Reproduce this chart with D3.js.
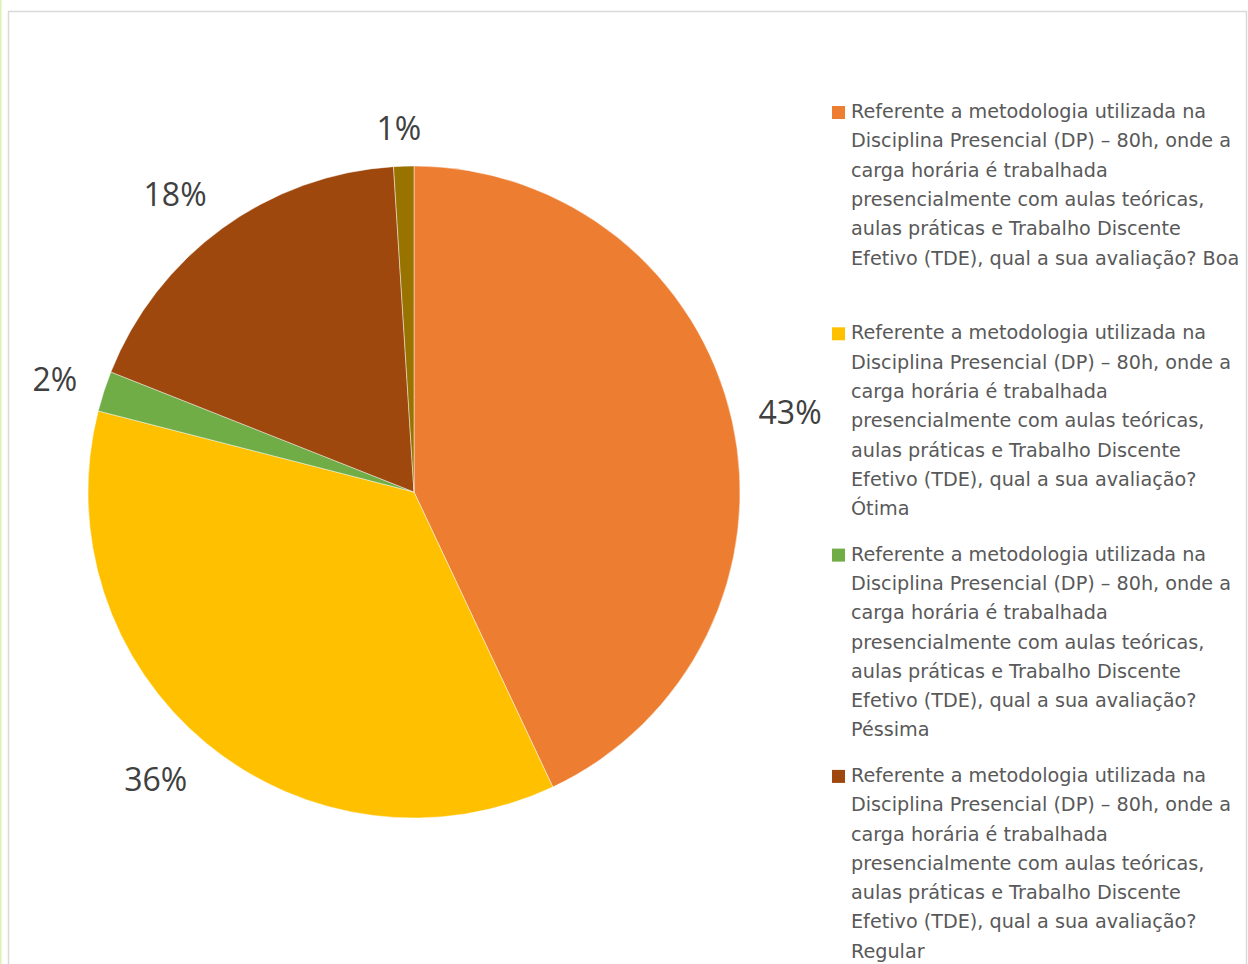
<!DOCTYPE html>
<html>
<head>
<meta charset="utf-8">
<script src="https://cdn.jsdelivr.net/npm/d3@7"></script>
<style>
html,body{margin:0;padding:0;background:#fff;overflow:hidden;}
svg{display:block;}
</style>
</head>
<body>
<svg id="chart" width="1248" height="964"></svg>
<script>
const questionText = "Referente a metodologia utilizada na Disciplina Presencial (DP) \u2013 80h, onde a carga horária é trabalhada presencialmente com aulas teóricas, aulas práticas e Trabalho Discente Efetivo (TDE), qual a sua avaliação?";
const ratings = ["Boa", "Ótima", "Péssima", "Regular", "Ruim"];
const percents = [43, 36, 2, 18, 1];
const colors = ["#ED7D31", "#FFC000", "#70AD47", "#9E480E", "#997300"];

const svg = d3.select("#chart");
const W = 1248, H = 964;

// frame lines
svg.append("rect").attr("x",0).attr("y",0).attr("width",1.5).attr("height",H).attr("fill","#dcf2b4");
svg.append("rect").attr("x",8.5).attr("y",11.5).attr("width",W-10).attr("height",H+20)
  .attr("fill","none").attr("stroke","#d9d9d9").attr("stroke-width",1.5);

const cx = 414, cy = 492, R = 326;
const data = ratings.map((r,i)=>({label: questionText + " " + r, value: percents[i], color: colors[i]}));

const pie = d3.pie().value(d=>d.value).sort(null);
const arcs = pie(data);
const arc = d3.arc().innerRadius(0).outerRadius(R);

const g = svg.append("g").attr("transform",`translate(${cx},${cy})`);
g.selectAll("path").data(arcs).join("path")
  .attr("d", arc)
  .attr("fill", d=>d.data.color)
  .attr("stroke", "#fff").attr("stroke-width", 0.75).attr("stroke-opacity",0.6);

// data labels (outside end, Excel-like)
const labelFont = 32;
const gap = 25;
const lbl = g.selectAll("text.lbl").data(arcs).join("text")
  .attr("class","lbl")
  .attr("font-family","'Open Sans', 'Noto Sans', sans-serif")
  .attr("font-size", labelFont)
  .attr("fill","#404040")
  .attr("text-anchor","middle")
  .text(d=>d3.format(".0%")(d.data.value/100));
lbl.each(function(d){
  const bb = this.getBBox();
  const w = bb.width, h = 30;
  const a = (d.startAngle + d.endAngle)/2;
  const s = Math.sin(a), c = Math.cos(a);
  const px = (R+gap)*s, py = -(R+gap)*c;
  const fx = Math.max(-1, Math.min(1, s*1.6));
  const fy = Math.max(-1, Math.min(1, c*1.4));
  const ccx = px + fx*w/2 + (s < 0 ? -3 : 2), ccy = py - fy*h/2;
  d3.select(this).attr("x", ccx).attr("y", ccy).attr("dy","0.42em");
});

// legend
const legX = 832, legY0 = 118, legStep = 221.3, lineH = 29.3, maxW = 392;
const leg = svg.append("g");
data.forEach((d,i)=>{
  const y0 = legY0 + i*legStep;
  if (y0 - 14 > H) return;
  leg.append("rect").attr("x",legX).attr("y",y0-12).attr("width",13).attr("height",13).attr("fill",d.color);
  const t = leg.append("text")
    .attr("font-family","'DejaVu Sans', sans-serif")
    .attr("font-size",19.2).attr("fill","#595959");
  const words = d.label.split(" ");
  let line = [], ln = 0;
  let ts = t.append("tspan").attr("x",851).attr("y",y0);
  words.forEach(wd=>{
    line.push(wd);
    ts.text(line.join(" "));
    if (ts.node().getComputedTextLength() > maxW && line.length>1){
      line.pop();
      ts.text(line.join(" "));
      line = [wd]; ln++;
      ts = t.append("tspan").attr("x",851).attr("y",y0+ln*lineH).text(wd);
    }
  });
});
</script>
</body>
</html>
